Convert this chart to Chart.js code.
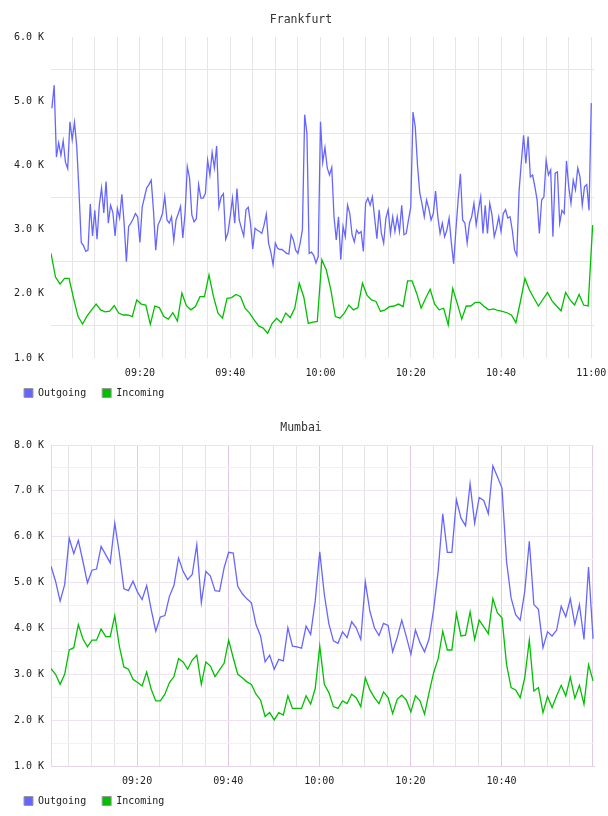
<!DOCTYPE html>
<html>
<head>
<meta charset="utf-8">
<script src="https://cdn.jsdelivr.net/npm/chart.js@4.4.1/dist/chart.umd.min.js"></script>
<style>
  body { margin: 0; background: #fff; }
  canvas { display: block; }
</style>
</head>
<body>
<canvas id="frankfurt" width="608" height="408"></canvas>
<canvas id="mumbai" width="608" height="408"></canvas>
<script>
// minutes after 09:00, sampled at a fixed step
const frOutStart = 0.5, frOutStep = 0.5;
const frOutgoing = [
  4890, 5250, 4130, 4350, 4160, 4380, 4050, 3950, 4680, 4400,
  4670, 4300, 3600, 2800, 2750, 2660, 2680, 3400, 2900, 3300,
  2850, 3380, 3650, 3260, 3750, 3100, 3380, 3270, 2900, 3330,
  3180, 3550, 3100, 2500, 3050, 3100, 3170, 3250, 3200, 2800,
  3350, 3500, 3650, 3700, 3770, 3300, 2680, 3070, 3150, 3250,
  3520, 3150, 3100, 3200, 2830, 3150, 3250, 3360, 2870, 3250,
  3980, 3800, 3230, 3120, 3170, 3700, 3490, 3490, 3560, 4080,
  3850, 4200, 3960, 4300, 3350, 3510, 3560, 2850, 2950, 3200,
  3490, 3100, 3640, 3150, 3020, 2900, 3310, 3350, 3100, 2700,
  3020, 2990, 2970, 2940, 3070, 3240, 2790, 2650, 2450, 2790,
  2710, 2690, 2690, 2660, 2630, 2620, 2920, 2840, 2680, 2630,
  2790, 3000, 4790, 4500, 2630, 2650, 2600, 2480, 2580, 4680,
  4050, 4280, 3960, 3850, 3970, 3200, 2840, 3200, 2530, 3050,
  2890, 3380, 3250, 2920, 2810, 2990, 2940, 2970, 2660, 3410,
  3490, 3380, 3510, 3180, 2860, 3310, 2940, 2790, 3180, 3310,
  2940, 3200, 2970, 3200, 2970, 3380, 2920, 2940, 3150, 3350,
  4830, 4600, 4000, 3570, 3400, 3200, 3460, 3330, 3150, 3250,
  3600, 3200, 2940, 3100, 2890, 2990, 3180, 2790, 2470, 2990,
  3460, 3870, 3150, 3100, 2790, 3100, 3200, 3410, 3070, 3310,
  3510, 2940, 3380, 2940, 3410, 3230, 2890, 3020, 3200, 2970,
  3250, 3310, 3180, 3200, 2990, 2680, 2600, 3600, 4050, 4470,
  4030, 4450, 3820, 3850, 3670, 3460, 2940, 3460, 3510, 4080,
  3850, 3930, 2890, 3880, 3900, 3100, 3300, 3250, 4070, 3670,
  3410, 3770, 3620, 3960, 3820, 3380, 3670, 3700, 3300, 4970
];
const frInStart = 0.3, frInStep = 1;
const frIncoming = [
  2630, 2260, 2150, 2240, 2240, 1930, 1645, 1530, 1655, 1750,
  1840, 1750, 1720, 1730, 1815, 1700, 1670, 1670, 1645, 1905,
  1840, 1825, 1525, 1810, 1785, 1645, 1605, 1705, 1575, 2010,
  1815, 1750, 1800, 1955, 1955, 2295, 1955, 1700, 1620, 1930,
  1940, 1990, 1955, 1775, 1700, 1595, 1500, 1465, 1385, 1540,
  1620, 1550, 1700, 1630, 1775, 2165, 1950, 1540, 1560, 1570,
  2530, 2370, 2060, 1645, 1620, 1700, 1825, 1750, 1785, 2165,
  1980, 1905, 1880, 1725, 1750, 1800, 1810, 1840, 1800, 2200,
  2200, 2010, 1775, 1930, 2070, 1840, 1750, 1775, 1515, 2085,
  1850, 1605, 1810, 1810, 1865, 1865, 1800, 1750, 1765, 1740,
  1725, 1705, 1670, 1550, 1880, 2240, 2060, 1930, 1810, 1915,
  2020, 1890, 1810, 1735, 2020, 1905, 1825, 1990, 1825, 1810,
  3070
];

const muStart = 1.1, muStep = 1;
const muOutgoing = [
  5355, 5030, 4595, 4955, 5970, 5630, 5920, 5465, 4995, 5270,
  5295, 5790, 5610, 5430, 6295, 5645, 4865, 4825, 5030, 4790,
  4630, 4935, 4410, 3940, 4250, 4280, 4700, 4940, 5535, 5245,
  5065, 5175, 5825, 4560, 5245, 5140, 4825, 4810, 5320, 5660,
  5645, 4920, 4755, 4645, 4560, 4085, 3835, 3270, 3415, 3110,
  3325, 3290, 4015, 3615, 3600, 3570, 4050, 3870, 4600, 5670,
  4740, 4100, 3730, 3675, 3925, 3800, 4145, 4015, 3760, 5015,
  4375, 4015, 3845, 4110, 4065, 3490, 3800, 4180, 3820, 3435,
  3965, 3690, 3490, 3775, 4415, 5260, 6500, 5660, 5660, 6805,
  6405, 6240, 7155, 6295, 6855, 6790, 6500, 7545, 7310, 7060,
  5465, 4665, 4300, 4180, 4810, 5900, 4520, 4415, 3580, 3925,
  3835, 3965, 4485, 4255, 4645, 4085, 4520, 3760, 5340, 3775
];
const muIncoming = [
  3120, 3000, 2780, 3000, 3530, 3580, 4085, 3775, 3600, 3745,
  3745, 3990, 3820, 3820, 4280, 3615, 3160, 3110, 2890, 2820,
  2745, 3050, 2675, 2420, 2420, 2565, 2820, 2950, 3340, 3270,
  3110, 3310, 3415, 2780, 3270, 3180, 2950, 3095, 3240, 3745,
  3360, 3000, 2925, 2835, 2780, 2565, 2440, 2080, 2165, 2005,
  2165, 2110, 2530, 2255, 2255, 2255, 2530, 2350, 2690, 3615,
  2780, 2600, 2295, 2255, 2420, 2360, 2565, 2490, 2295, 2925,
  2660, 2490, 2360, 2615, 2490, 2145, 2455, 2545, 2440, 2180,
  2530, 2420, 2130, 2600, 3035, 3340, 3940, 3530, 3530, 4325,
  3835, 3855, 4360, 3760, 4180, 4035, 3885, 4650, 4340, 4230,
  3215, 2710, 2660, 2490, 2925, 3745, 2635, 2710, 2165, 2515,
  2275, 2530, 2760, 2530, 2940, 2480, 2760, 2345, 3205, 2855
];

const MONO = "'DejaVu Sans Mono', monospace";
const BLUE = '#6666ff', GREEN = '#00c000';

function pad(n) { return (n < 10 ? '0' : '') + n; }
function clock(m) { return pad(9 + Math.floor(m / 60)) + ':' + pad(m % 60); }
function series(start, step, values) {
  return values.map((v, i) => ({x: start + i * step, y: v}));
}

function drawChart(id, title, o) {
  return new Chart(document.getElementById(id), {
    type: 'line',
    data: {
      datasets: [
        {label: 'Outgoing', data: o.outgoing, borderColor: BLUE, backgroundColor: BLUE},
        {label: 'Incoming', data: o.incoming, borderColor: GREEN, backgroundColor: GREEN}
      ]
    },
    options: {
      responsive: false,
      animation: false,
      layout: {padding: {left: 8, right: 14, top: 0, bottom: 0}},
      elements: {
        line: {borderWidth: 1.3, tension: 0},
        point: {radius: 0}
      },
      plugins: {
        title: {
          display: true, text: title, color: '#333',
          font: {family: MONO, size: 11.5, weight: 'normal'},
          padding: {top: 13, bottom: 10.2}
        },
        legend: {
          position: 'bottom', align: 'start',
          labels: {
            boxWidth: 9, boxHeight: 9, padding: 16, color: '#222',
            font: {family: MONO, size: 10},
            generateLabels: chart => Chart.defaults.plugins.legend.labels.generateLabels(chart)
              .map(l => Object.assign(l, {strokeStyle: '#999', lineWidth: 1}))
          }
        },
        tooltip: {enabled: false}
      },
      scales: {
        x: {
          type: 'linear', min: o.xMin, max: o.xMax,
          afterFit: s => { s.height = 14; s.paddingLeft = 0; s.paddingRight = 0; },
          border: o.border ? {display: true, color: o.border} : {display: false},
          grid: {drawTicks: false, color: o.xGrid},
          ticks: {
            // mirrored labels are not clipped to the short axis box
            mirror: true,
            stepSize: 5, includeBounds: false, autoSkip: false, maxRotation: 0,
            padding: -21, color: '#222', font: {family: MONO, size: 10},
            callback: v => (v % 20 === 0 && v <= o.lastLabel) ? clock(v) : ''
          }
        },
        y: {
          min: o.yMin, max: o.yMax,
          afterFit: s => { s.width = 43; },
          border: o.border ? {display: true, color: o.border} : {display: false},
          grid: {drawTicks: false, color: o.yGrid},
          ticks: {
            stepSize: 500, autoSkip: false, padding: 7, color: '#222',
            font: {family: MONO, size: 10},
            callback: v => v % 1000 === 0 ? (v / 1000).toFixed(1) + ' K' : ''
          }
        }
      }
    }
  });
}

drawChart('frankfurt', 'Frankfurt', {
  outgoing: series(frOutStart, frOutStep, frOutgoing),
  incoming: series(frInStart, frInStep, frIncoming),
  xMin: 0.3, xMax: 120.6, yMin: 1000, yMax: 6000, lastLabel: 120,
  border: null,
  xGrid: '#e6e6e6',
  yGrid: c => c.tick.value % 1000 === 500 ? '#e6e6e6' : 'rgba(0,0,0,0)'
});

drawChart('mumbai', 'Mumbai', {
  outgoing: series(muStart, muStep, muOutgoing),
  incoming: series(muStart, muStep, muIncoming),
  xMin: 1.1, xMax: 120.3, yMin: 1000, yMax: 8000, lastLabel: 100,
  border: '#e8d4e8',
  xGrid: c => c.tick.value % 20 === 0 ? '#e2cce2' : '#e4e4e4',
  yGrid: c => c.tick.value % 1000 === 0 ? '#f0e2f0' : '#f2f2f2'
});
</script>
</body>
</html>
